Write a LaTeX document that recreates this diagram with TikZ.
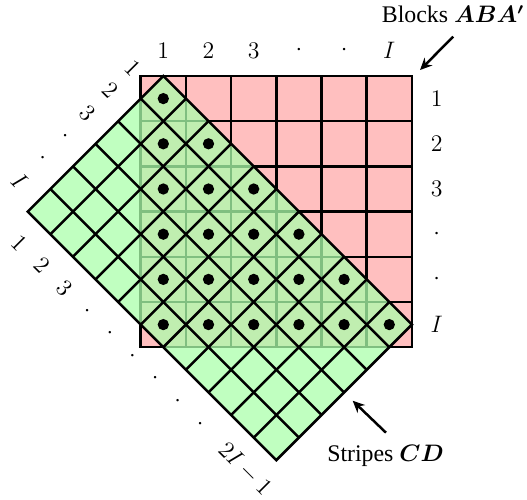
\documentclass[tikz,border=0pt]{standalone}
\usepackage{amsmath}
\usepackage{bm}
\usepackage{fontspec}
\setmainfont{Liberation Serif}
\usetikzlibrary{arrows.meta}

\begin{document}
\begin{tikzpicture}[x=0.4cm,y=0.4cm,
  every node/.style={font=\fontsize{12}{14}\selectfont, inner sep=0pt},
  gridline/.style={line width=1.25pt},
  blockfill/.style={fill=red!25},
  stripefill/.style={fill=green!33, fill opacity=0.75},
  idxlabel/.style={anchor=center},
  diaglabel/.style={anchor=center, rotate=-45},
  pointer/.style={line width=1.25pt, -{Stealth[length=6pt,width=5.5pt]}},
  dot/.style={fill=black}]
\useasboundingbox (-6.226,3.363) rectangle (17.093,-18.761);

% block matrix: I x I cells
\fill[blockfill] (0,0) rectangle (12,-12);
\foreach \k in {2,4,...,10} {
  \draw[gridline] (\k,0) -- (\k,-12);
  \draw[gridline] (0,-\k) -- (12,-\k);
}
\draw[gridline] (0,0) rectangle (12,-12);

% stripe layout: I x (2I-1) diamonds, laid over the blocks
\fill[stripefill] (1,0) -- (12,-11) -- (6,-17) -- (-5,-6) -- cycle;
\foreach \k in {1,...,5}
  \draw[gridline] (1-\k,-\k) -- (12-\k,-11-\k);
\foreach \k in {1,...,10}
  \draw[gridline] (1+\k,-\k) -- (-5+\k,-6-\k);
\draw[gridline] (1,0) -- (12,-11) -- (6,-17) -- (-5,-6) -- cycle;

% occupied blocks (lower triangle)
\foreach \i in {1,...,6}
  \foreach \j in {1,...,\i}
    \fill[dot] ({2*\j-1},{-(2*\i-1)}) circle (0.25);

% column and row indices of the blocks
\foreach \j/\t in {1/1,2/2,3/3,4/\cdot,5/\cdot,6/I} {
  \node[idxlabel] (col\j) at ({2*\j-1},1.12) {$\t$};
  \node[idxlabel] (row\j) at (13.1,{-(2*\j-1)}) {$\t$};
}

% indices along the two diagonal edges of the stripes
\foreach \k/\t in {0/1,1/2,2/3,3/\cdot,4/\cdot,5/I}
  \node[diaglabel] (ul\k) at ({-0.363-\k},{0.363-\k}) {$\t$};
\foreach \k/\t in {0/1,1/2,2/3,3/\cdot,4/\cdot,5/\cdot,6/\cdot,7/\cdot,8/\cdot,10/2I-1}
  \node[diaglabel] (ll\k) at ({-5.384+\k},{-7.384-\k}) {$\t$};

% captions with pointers
\node[anchor=base] (blocks) at (13.82,2.35) {Blocks $\bm{ABA'}$};
\coordinate (blkfrom) at (13.83,1.74);
\coordinate (blkto) at (12.36,0.265);
\draw[pointer] (blkfrom) -- (blkto);

\node[anchor=base] (stripes) at (10.83,-17.07) {Stripes $\bm{CD}$};
\coordinate (strfrom) at (10.85,-15.78);
\coordinate (strto) at (9.38,-14.37);
\draw[pointer] (strfrom) -- (strto);
\end{tikzpicture}
\end{document}
